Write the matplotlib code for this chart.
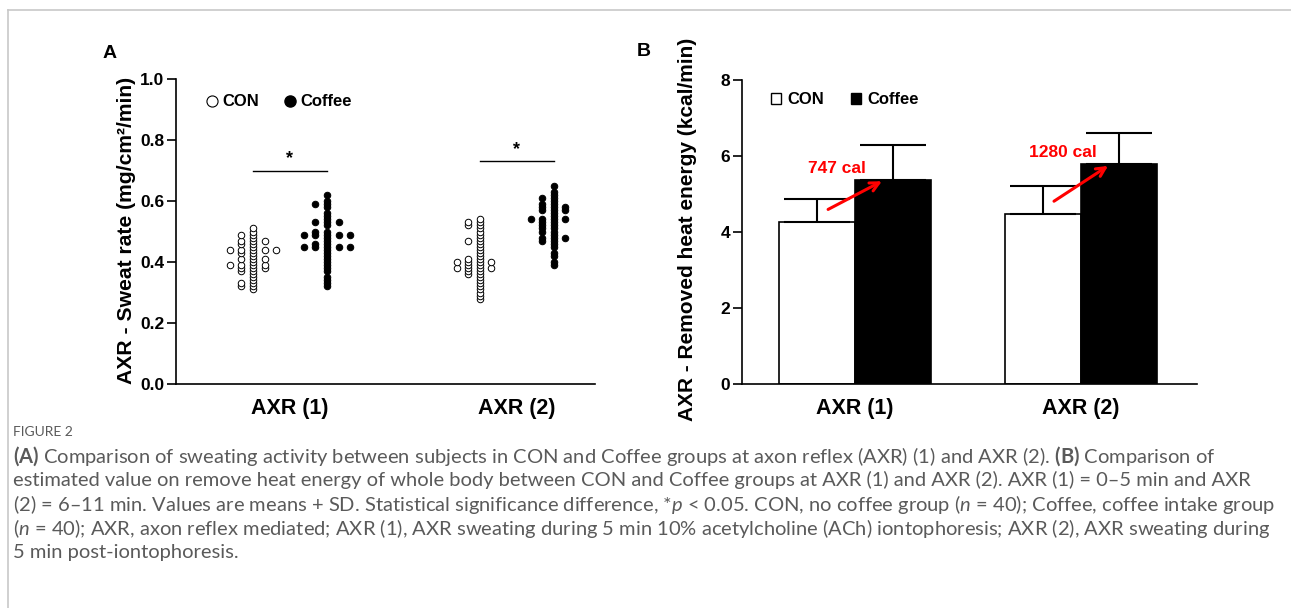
import numpy as np
import matplotlib
matplotlib.use("Agg")
import matplotlib.pyplot as plt
from matplotlib.lines import Line2D
from matplotlib.patches import Patch

plt.rcParams['font.family'] = ['Liberation Sans', 'DejaVu Sans']
plt.rcParams['font.weight'] = 'bold'
plt.rcParams['mathtext.fontset'] = 'custom'
plt.rcParams['mathtext.rm'] = 'Lato:normal'
plt.rcParams['mathtext.it'] = 'Lato:italic:normal'
plt.rcParams['mathtext.bf'] = 'Lato:bold'

# ---- data ----
periods = ["AXR (1)", "AXR (2)"]

# panel A: individual sweat rates (mg/cm2/min), n = 40 per group
con_axr1 = [0.31, 0.32, 0.32, 0.33, 0.33, 0.34, 0.35, 0.36, 0.37, 0.37,
            0.38, 0.38, 0.38, 0.39, 0.39, 0.39, 0.39, 0.40, 0.41, 0.41,
            0.41, 0.42, 0.43, 0.43, 0.44, 0.44, 0.44, 0.44, 0.44, 0.45,
            0.46, 0.46, 0.47, 0.47, 0.47, 0.48, 0.49, 0.49, 0.50, 0.51]
cof_axr1 = [0.32, 0.33, 0.34, 0.35, 0.37, 0.38, 0.39, 0.40, 0.41, 0.42,
            0.43, 0.44, 0.45, 0.45, 0.45, 0.45, 0.45, 0.46, 0.46, 0.47,
            0.48, 0.49, 0.49, 0.49, 0.49, 0.49, 0.50, 0.50, 0.52, 0.53,
            0.53, 0.53, 0.54, 0.55, 0.56, 0.58, 0.59, 0.59, 0.60, 0.62]
con_axr2 = [0.28, 0.29, 0.30, 0.31, 0.32, 0.33, 0.34, 0.35, 0.36, 0.36,
            0.37, 0.37, 0.38, 0.38, 0.38, 0.38, 0.39, 0.39, 0.40, 0.40,
            0.40, 0.40, 0.41, 0.41, 0.42, 0.43, 0.44, 0.45, 0.46, 0.47,
            0.47, 0.48, 0.49, 0.50, 0.51, 0.52, 0.52, 0.53, 0.53, 0.54]
cof_axr2 = [0.39, 0.40, 0.42, 0.43, 0.45, 0.46, 0.47, 0.47, 0.48, 0.48,
            0.48, 0.49, 0.50, 0.50, 0.51, 0.51, 0.52, 0.52, 0.53, 0.53,
            0.54, 0.54, 0.54, 0.54, 0.55, 0.56, 0.57, 0.57, 0.57, 0.58,
            0.58, 0.58, 0.59, 0.59, 0.60, 0.61, 0.61, 0.62, 0.63, 0.65]
sig_height = [0.70, 0.73]

# panel B: removed heat energy (kcal/min), mean + SD
con_mean = [4.26, 4.47]
con_sd = [0.61, 0.75]
cof_mean = [5.37, 5.78]
cof_sd = [0.91, 0.83]
saved_labels = ["747 cal", "1280 cal"]

caption_lines = [
    r"$\mathbf{(A)}$ Comparison of sweating activity between subjects in CON and Coffee groups at axon reflex (AXR) (1) and AXR (2). $\mathbf{(B)}$ Comparison of",
    "estimated value on remove heat energy of whole body between CON and Coffee groups at AXR (1) and AXR (2). AXR (1) = 0\u20135 min and AXR",
    "(2) = 6\u201311 min. Values are means + SD. Statistical significance difference, *"
    + r"$\mathit{p}$ < 0.05. CON, no coffee group ($\mathit{n}$ = 40); Coffee, coffee intake group",
    r"($\mathit{n}$ = 40); AXR, axon reflex mediated; AXR (1), AXR sweating during 5 min 10% acetylcholine (ACh) iontophoresis; AXR (2), AXR sweating during",
    "5 min post-iontophoresis.",
]


def swarm_offsets(values, step):
    # spread repeated values sideways: centre, left, right, far left, far right
    order = [0, -1, 1, -2, 2, -3, 3]
    seen = {}
    offs = []
    for v in values:
        k = seen.get(round(v, 3), 0)
        offs.append(order[k] * step)
        seen[round(v, 3)] = k + 1
    return np.array(offs)


fig = plt.figure(figsize=(12.91, 6.08), dpi=100)
W, H = 1291, 608

def px_axes(l, r, top, bottom):
    return fig.add_axes([l / W, 1 - bottom / H, (r - l) / W, (bottom - top) / H])

# ---------------- panel A ----------------
axA = px_axes(176, 595, 79, 384)
x = np.arange(len(periods))
grp = 0.163
step = 0.051
for i, (c, f) in enumerate([(con_axr1, cof_axr1), (con_axr2, cof_axr2)]):
    axA.scatter(x[i] - grp + swarm_offsets(c, step), c, s=22, facecolor='white',
                edgecolor='black', linewidth=0.7, zorder=3)
    axA.scatter(x[i] + grp + swarm_offsets(f, step), f, s=22, facecolor='black',
                edgecolor='black', linewidth=0.7, zorder=3)
    axA.plot([x[i] - grp, x[i] + grp], [sig_height[i], sig_height[i]], color='black', lw=1.0)
    axA.text(x[i], sig_height[i] + 0.04, "*", ha='center', va='center', fontsize=13)

axA.set_xlim(-0.502, 1.344)
axA.set_ylim(0, 1.0)
axA.set_yticks(np.arange(0, 1.01, 0.2))
axA.set_yticklabels([f"{t:.1f}" for t in np.arange(0, 1.01, 0.2)])
axA.set_xticks(x)
axA.set_xticklabels(periods)
axA.set_ylabel("AXR - Sweat rate (mg/cm\u00b2/min)", fontsize=15.2, fontweight='bold')
axA.yaxis.set_label_coords(-0.096, 0.505)

# ---------------- panel B ----------------
axB = px_axes(742, 1197, 80, 384)
bw = 0.336
axB.bar(x - bw / 2, con_mean, bw, color='white', edgecolor='black', linewidth=1.2, zorder=2)
axB.bar(x + bw / 2, cof_mean, bw, color='black', edgecolor='black', linewidth=1.2, zorder=2)
axB.errorbar(x - bw / 2, con_mean, yerr=[np.zeros(2), con_sd], fmt='none',
             ecolor='black', elinewidth=1.5, capsize=24, capthick=1.5, zorder=3)
axB.errorbar(x + bw / 2, cof_mean, yerr=[np.zeros(2), cof_sd], fmt='none',
             ecolor='black', elinewidth=1.5, capsize=24, capthick=1.5, zorder=1)
for i in range(len(periods)):
    axB.annotate("", xy=(x[i] + 0.13, cof_mean[i]), xytext=(x[i] - 0.13, con_mean[i] + 0.3),
                 arrowprops=dict(arrowstyle='->', color='red', lw=2.2, mutation_scale=16),
                 zorder=4)
    axB.text(x[i] - 0.08, cof_mean[i] + 0.30, saved_labels[i], color='red',
             ha='center', va='center', fontsize=12.5, fontweight='bold')

axB.set_xlim(-0.5, 1.513)
axB.set_ylim(0, 8)
axB.set_yticks([0, 2, 4, 6, 8])
axB.set_xticks(x)
axB.set_xticklabels(periods)
axB.set_ylabel("AXR - Removed heat energy (kcal/min)", fontsize=15.0, fontweight='bold')
axB.yaxis.set_label_coords(-0.098, 0.51)

for ax in (axA, axB):
    for s in ('top', 'right'):
        ax.spines[s].set_visible(False)
    for s in ('left', 'bottom'):
        ax.spines[s].set_linewidth(1.2)
    ax.tick_params(axis='y', length=6.5, width=1.2, pad=2, labelsize=12.5)
    ax.tick_params(axis='x', length=0, pad=10, labelsize=15.5)
    for lab in ax.get_xticklabels() + ax.get_yticklabels():
        lab.set_fontweight('bold')

# legends
hA = [Line2D([], [], marker='o', ls='none', mfc='white', mec='black', ms=8, mew=0.8),
      Line2D([], [], marker='o', ls='none', mfc='black', mec='black', ms=8)]
axA.legend(hA, ["CON", "Coffee"], ncol=2, frameon=False, loc='center left',
           bbox_to_anchor=(0.058, 0.925), handlelength=0.6, handletextpad=0.3,
           columnspacing=1.6, prop={'weight': 'bold', 'size': 12}, borderaxespad=0)
hB = [Patch(facecolor='white', edgecolor='black', linewidth=1.0),
      Patch(facecolor='black', edgecolor='black')]
axB.legend(hB, ["CON", "Coffee"], ncol=2, frameon=False, loc='center left',
           bbox_to_anchor=(0.048, 0.935), handlelength=0.6, handleheight=0.6,
           handletextpad=0.4, columnspacing=1.6, prop={'weight': 'bold', 'size': 12},
           borderaxespad=0)

fig.text(103 / W, 1 - 54 / H, "A", fontsize=14, fontweight='bold', va='center')
fig.text(637 / W, 1 - 52 / H, "B", fontsize=14, fontweight='bold', va='center')

# ---------------- caption ----------------
fig.text(13 / W, 1 - 432 / H, "FIGURE 2", fontsize=10, color='#5a5a5a',
         family='Lato', fontweight='normal', va='center')
for k, line in enumerate(caption_lines):
    fig.text(13 / W, 1 - (456 + 24.2 * k) / H, line, fontsize=14.5, color='#5a5a5a',
             family='Lato', fontweight='normal', va='center')

# page frame
fig.add_artist(Line2D([8 / W, 1], [1 - 10 / H, 1 - 10 / H], color='#c8c8c8', lw=1.2))
fig.add_artist(Line2D([8 / W, 8 / W], [0, 1 - 10 / H], color='#c8c8c8', lw=1.2))

fig.savefig("out.png", dpi=100)
